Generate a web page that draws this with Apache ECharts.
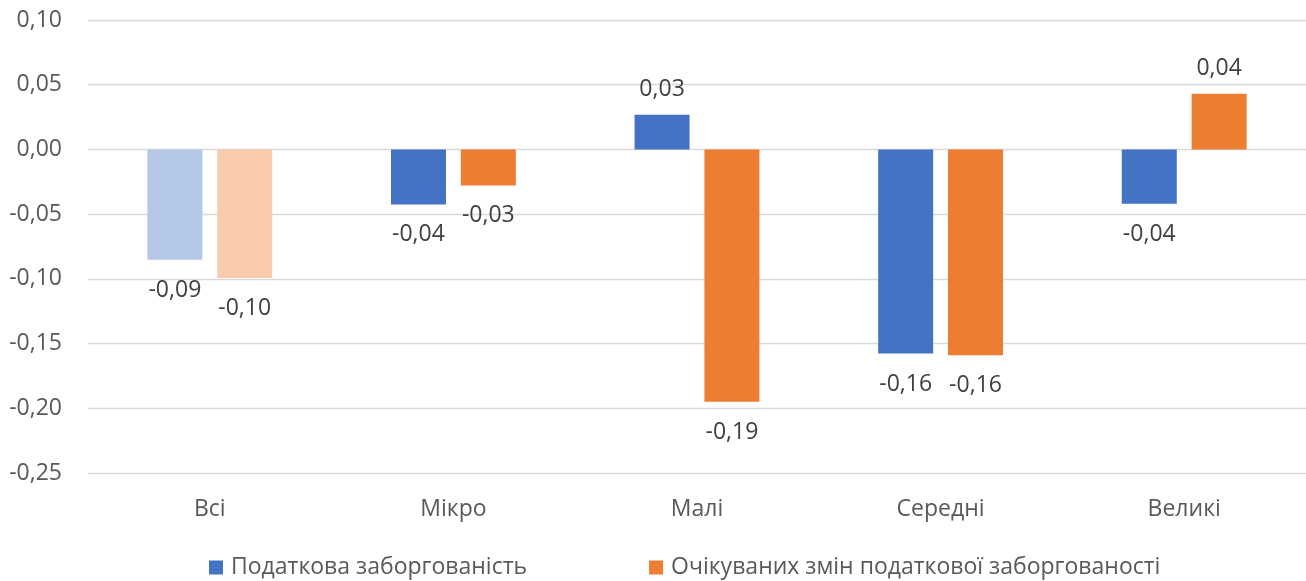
<!DOCTYPE html>
<html>
<head>
<meta charset="utf-8">
<script src="https://cdn.jsdelivr.net/npm/echarts@6/dist/echarts.min.js"></script>
<style>html,body{margin:0;padding:0;background:#fff}#c{width:1306px;height:581px}</style>
</head>
<body>
<div id="c"></div>
<script>
const categories = ['Всі', 'Мікро', 'Малі', 'Середні', 'Великі'];
const seriesNames = ['Податкова заборгованість', 'Очікуваних змін податкової заборгованості'];
const debtValues = [-0.0853, -0.0425, 0.0268, -0.1577, -0.0420];
const expectedValues = [-0.0994, -0.0278, -0.1949, -0.1590, 0.0430];
const yTicks = { min: -0.25, max: 0.10, interval: 0.05 };

const FONT = '"Open Sans", sans-serif';
const FS = 23;
const colors = ['#4472C4', '#ED7D31'];
const fadedColors = ['#B4C7E7', '#F8CBAD'];
const fmt = v => v.toFixed(2).replace('.', ',');

function buildData(vals, idx) {
  return vals.map((v, i) => {
    const item = { value: v, label: { distance: v < 0 ? 19 : 14 } };
    if (i === 0) item.itemStyle = { color: fadedColors[idx] };
    return item;
  });
}

const chart = echarts.init(document.getElementById('c'));
const labelCfg = {
  show: true, position: 'outside', distance: 14,
  fontFamily: FONT, fontSize: FS, color: '#404040',
  formatter: p => fmt(p.value)
};
chart.setOption({
  animation: false,
  color: colors,
  grid: { left: 88, right: 0, top: 20, bottom: 108, containLabel: false },
  legend: {
    data: seriesNames, left: 204, top: 551, icon: 'rect', itemWidth: 14, itemHeight: 14,
    itemGap: 122, textStyle: { fontFamily: FONT, fontSize: FS, color: '#595959', padding: [0, 0, 0, 3] }
  },
  xAxis: {
    type: 'category', data: categories,
    axisLine: { show: false }, axisTick: { show: false },
    axisLabel: { fontFamily: FONT, fontSize: FS, color: '#595959', margin: 25 }
  },
  yAxis: {
    type: 'value', min: yTicks.min, max: yTicks.max, interval: yTicks.interval,
    axisLine: { show: false }, axisTick: { show: false },
    axisLabel: { fontFamily: FONT, fontSize: FS, color: '#595959', margin: 26, formatter: v => fmt(v) },
    splitLine: { lineStyle: { color: '#D9D9D9', width: 1.3 } }
  },
  series: [
    { name: seriesNames[0], type: 'bar', data: buildData(debtValues, 0), barWidth: 55, barGap: '27%', label: labelCfg },
    { name: seriesNames[1], type: 'bar', data: buildData(expectedValues, 1), barWidth: 55, barGap: '27%', label: labelCfg }
  ]
});
</script>
</body>
</html>
